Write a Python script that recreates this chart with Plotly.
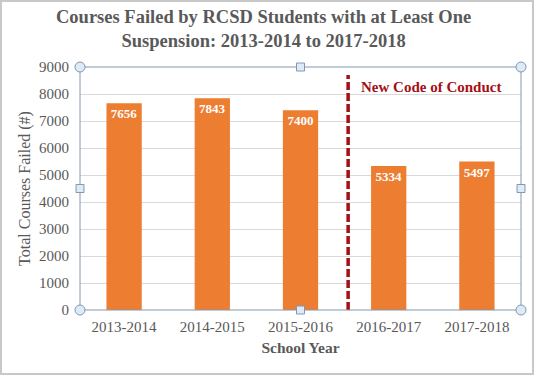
import plotly.graph_objects as go

years = ["2013-2014", "2014-2015", "2015-2016", "2016-2017", "2017-2018"]
courses_failed = [7656, 7843, 7400, 5334, 5497]
y_ticks = [0, 1000, 2000, 3000, 4000, 5000, 6000, 7000, 8000, 9000]

serif = "Liberation Serif, Times New Roman, serif"
gray = "#595959"
orange = "#ED7D31"
darkred = "#A50F15"

W, H = 534, 375
L, R, T, B = 80, 13, 67, 65
PW, PH = W - L - R, H - T - B

def px(x):
    return (x - L) / PW

def py(y):
    return (H - B - y) / PH

fig = go.Figure()
fig.add_trace(go.Bar(
    x=list(range(len(years))), y=courses_failed,
    marker=dict(color=orange, line=dict(width=0)),
    width=0.4,
    text=[str(v) for v in courses_failed],
    textposition="inside", insidetextanchor="end",
    textfont=dict(family=serif, size=13, color="white"),
    texttemplate="<b>%{text}</b>",
    cliponaxis=False,
))

# dashed "new code" line
fig.add_shape(type="line", xref="x", yref="y", x0=2.54, x1=2.54, y0=0, y1=8700,
              line=dict(color=darkred, width=3.5, dash="8px,3px"))
fig.add_annotation(x=2.66, y=8260, xref="x", yref="y", text="<b>New Code of Conduct</b>",
                   showarrow=False, xanchor="left", yanchor="middle",
                   font=dict(family=serif, size=15, color=darkred))

# title
fig.add_annotation(x=px(263), y=py(29), xref="paper", yref="paper",
                   text="<b>Courses Failed by RCSD Students with at Least One<br>Suspension: 2013-2014 to 2017-2018</b>",
                   showarrow=False, xanchor="center", yanchor="middle",
                   font=dict(family=serif, size=18.5, color=gray))

# plot area selection frame & handles
fig.add_shape(type="rect", xref="x domain", yref="y domain", x0=0, x1=1, y0=0, y1=1,
              line=dict(color="#8497B0", width=1), layer="above")
for (hx, hy) in [(0, 0), (1, 0), (0, 1), (1, 1)]:
    fig.add_shape(type="circle", xref="x domain", yref="y domain",
                  xsizemode="pixel", ysizemode="pixel", xanchor=hx, yanchor=hy,
                  x0=-5, x1=5, y0=-5, y1=5,
                  fillcolor="#DDEBF7", line=dict(color="#8497B0", width=1), layer="above")
for (hx, hy) in [(0.5, 0), (0.5, 1), (0, 0.5), (1, 0.5)]:
    fig.add_shape(type="rect", xref="x domain", yref="y domain",
                  xsizemode="pixel", ysizemode="pixel", xanchor=hx, yanchor=hy,
                  x0=-4, x1=4, y0=-4, y1=4,
                  fillcolor="#DDEBF7", line=dict(color="#8497B0", width=1), layer="above")

# outer border
fig.add_shape(type="rect", xref="paper", yref="paper",
              x0=px(1), x1=px(W - 1), y0=py(H - 1), y1=py(1),
              line=dict(color="#C8C8C8", width=2))

fig.update_layout(
    width=W, height=H,
    margin=dict(l=L, r=R, t=T, b=B),
    paper_bgcolor="white", plot_bgcolor="white",
    showlegend=False,
    font=dict(family=serif, color=gray),
    xaxis=dict(tickmode="array", tickvals=list(range(len(years))), ticktext=years,
               range=[-0.5, 4.5], showgrid=False, zeroline=False, showline=False,
               tickfont=dict(family=serif, size=15, color=gray), ticklabelstandoff=6,
               title=dict(text="<b>School Year</b>", font=dict(family=serif, size=15.5, color=gray), standoff=8)),
    yaxis=dict(tickmode="array", tickvals=y_ticks, range=[0, 9000],
               showgrid=True, gridcolor="#D9D9D9", zeroline=False, showline=False,
               tickfont=dict(family=serif, size=15, color=gray), ticks="", ticklabelstandoff=10,
               title=dict(text="Total Courses Failed (#)", font=dict(family=serif, size=16, color=gray), standoff=4)),
)

fig.write_html("out.html", config={"displayModeBar": False},
               post_script="document.body.style.margin='0';document.body.style.overflow='hidden';")
